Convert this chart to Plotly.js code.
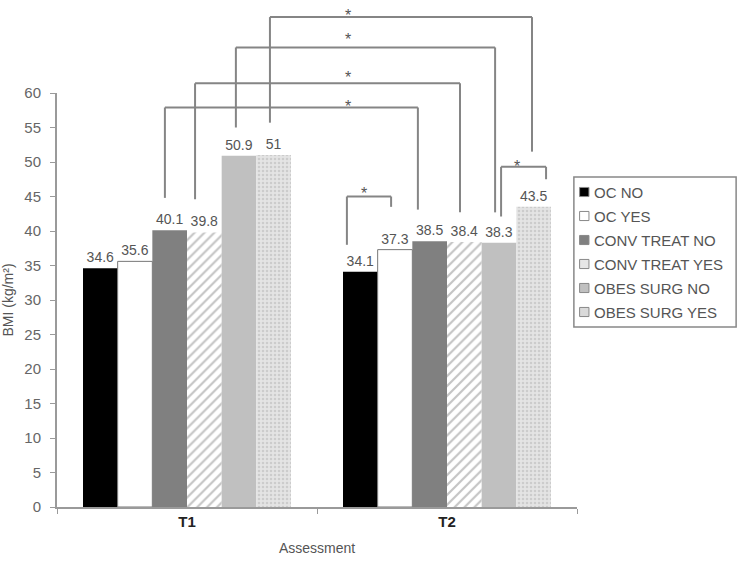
<!DOCTYPE html>
<html>
<head>
<meta charset="utf-8">
<script src="https://cdn.plot.ly/plotly-3.0.1.min.js"></script>
<style>
  html, body { margin: 0; padding: 0; background: #fff; }
  #chart { width: 746px; height: 565px; }
</style>
</head>
<body>
<div id="chart"></div>
<script>
// categories and series
var assessments = ["T1", "T2"];
var seriesNames = ["OC NO", "OC YES", "CONV TREAT NO", "CONV TREAT YES", "OBES SURG NO", "OBES SURG YES"];
var ocNo = [34.6, 34.1];
var ocYes = [35.6, 37.3];
var convNo = [40.1, 38.5];
var convYes = [39.8, 38.4];
var obesNo = [50.9, 38.3];
var obesYes = [51, 43.5];
var seriesValues = [ocNo, ocYes, convNo, convYes, obesNo, obesYes];

// significance brackets: [xLeft, xRight, yTop, yLeftEnd, yRightEnd] (x = category index units, y = BMI units)
var brackets = [
    [-0.085, 0.888, 57.9, 44.8, 43.1],
    [0.031, 1.050, 61.4, 44.6, 42.7],
    [0.188, 1.185, 66.6, 55.0, 42.7],
    [0.319, 1.327, 71.0, 55.7, 51.5],
    [0.615, 0.785, 45.0, 38.0, 43.5],
    [1.208, 1.381, 49.3, 42.1, 47.5]
];
var starPos = [
    [0.62, 59.5], [0.62, 63.7], [0.62, 69.3], [0.62, 72.8], [0.68, 47.0], [1.27, 50.8]
];

var fontFam = "Liberation Sans, Arial, sans-serif";
var styles = [
    { color: "#000000", line: { width: 0 } },
    { color: "#ffffff", line: { color: "#777777", width: 1 } },
    { color: "#808080", line: { width: 0 } },
    { color: "#ffffff", line: { width: 0 }, pattern: { shape: "/", fgcolor: "#c4c4c4", bgcolor: "#ffffff", size: 7, solidity: 0.3 } },
    { color: "#c0c0c0", line: { width: 0 } },
    { color: "#e2e2e2", line: { width: 0 }, pattern: { shape: ".", fgcolor: "#cccccc", bgcolor: "#e4e4e4", size: 4, solidity: 0.3 } }
];
var swatchColors = ["#000000", "#ffffff", "#808080", "#e6e6e6", "#c0c0c0", "#dadada"];

var traces = seriesNames.map(function (name, i) {
    return {
        type: "bar",
        name: name,
        x: assessments,
        y: seriesValues[i],
        marker: styles[i],
        text: seriesValues[i].map(String),
        textposition: "outside",
        cliponaxis: false,
        textfont: { family: fontFam, size: 14, color: "#555555" },
        showlegend: false
    };
});

var shapes = [];
var annotations = [];
var lineStyle = { color: "#858585", width: 2 };
brackets.forEach(function (b) {
    var segs = [[b[0], b[3], b[0], b[2]], [b[0], b[2], b[1], b[2]], [b[1], b[2], b[1], b[4]]];
    segs.forEach(function (s) {
        shapes.push({ type: "line", xref: "x", yref: "paper", x0: s[0], y0: s[1] / 60, x1: s[2], y1: s[3] / 60, line: lineStyle });
    });
});
starPos.forEach(function (p) {
    annotations.push({ xref: "x", yref: "paper", x: p[0], y: p[1] / 60, text: "*", showarrow: false,
        font: { family: fontFam, size: 16, color: "#555555" } });
});

// legend box drawn by hand
shapes.push({ type: "rect", xref: "paper", yref: "paper", x0: 0.994, x1: 1.306, y0: 0.435, y1: 0.797,
    line: { color: "#888888", width: 1.5 }, fillcolor: "#ffffff" });
seriesNames.forEach(function (name, i) {
    var yc = (507 - (192 + 24 * i)) / 414;
    shapes.push({ type: "rect", xref: "paper", yref: "paper", x0: 1.005, x1: 1.023, y0: yc - 0.011, y1: yc + 0.011,
        fillcolor: swatchColors[i], line: { color: "#888888", width: 1 } });
    annotations.push({ xref: "paper", yref: "paper", x: 1.028, y: yc, xanchor: "left", yanchor: "middle",
        text: name, showarrow: false, font: { family: fontFam, size: 15, color: "#555555" } });
});

var layout = {
    width: 746,
    height: 565,
    margin: { l: 57, r: 169, t: 93, b: 58 },
    paper_bgcolor: "#ffffff",
    plot_bgcolor: "#ffffff",
    barmode: "group",
    bargap: 0.2,
    bargroupgap: 0,
    showlegend: false,
    font: { family: fontFam, color: "#555555" },
    xaxis: {
        type: "category",
        showline: true,
        linecolor: "#9a9a9a",
        linewidth: 2,
        ticks: "outside",
        tickson: "boundaries",
        ticklen: 5,
        tickcolor: "#9a9a9a",
        tickfont: { family: fontFam, size: 15, color: "#222222", weight: "bold" },
        showgrid: false,
        title: { text: "Assessment", font: { family: fontFam, size: 14, color: "#555555" }, standoff: 14 }
    },
    yaxis: {
        range: [0, 60],
        dtick: 5,
        showline: true,
        linecolor: "#9a9a9a",
        linewidth: 2,
        ticks: "outside",
        ticklen: 5,
        tickcolor: "#9a9a9a",
        ticklabelstandoff: 6,
        tickfont: { family: fontFam, size: 15, color: "#666666" },
        showgrid: false,
        zeroline: false,
        title: { text: "BMI (kg/m²)", font: { family: fontFam, size: 14, color: "#555555" }, standoff: 8 }
    },
    shapes: shapes,
    annotations: annotations
};

Plotly.newPlot("chart", traces, layout, { displayModeBar: false, staticPlot: true });
</script>
</body>
</html>
